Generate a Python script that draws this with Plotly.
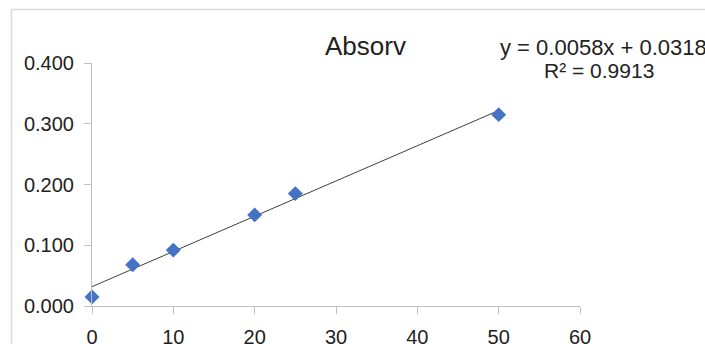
import plotly.graph_objects as go

# Data
conc = [0, 5, 10, 20, 25, 50]
absorb = [0.015, 0.068, 0.092, 0.150, 0.185, 0.315]
slope = 0.0058
intercept = 0.0318
trend_x = [0, 50]
trend_y = [intercept + slope * v for v in trend_x]
x_ticks = [0, 10, 20, 30, 40, 50, 60]
y_ticks = [0.0, 0.1, 0.2, 0.3, 0.4]
y_labels = ["0.000", "0.100", "0.200", "0.300", "0.400"]
title_text = "Absorv"
eq_text = "y = 0.0058x + 0.0318"
r2_text = "R² = 0.9913"

FONT = "Arial, Liberation Sans, Helvetica, sans-serif"

fig = go.Figure()
fig.add_trace(go.Scatter(x=trend_x, y=trend_y, mode="lines",
                         line=dict(color="#404040", width=1), showlegend=False,
                         hoverinfo="skip", cliponaxis=False))
fig.add_trace(go.Scatter(x=conc, y=absorb, mode="markers",
                         marker=dict(symbol="diamond", size=11.5, color="#4472C4",
                                     line=dict(width=0)),
                         showlegend=False, cliponaxis=False))

axis_col = "#bfbfbf"
fig.update_layout(
    width=705, height=344,
    margin=dict(l=92, r=125, t=63, b=38),
    paper_bgcolor="white", plot_bgcolor="white",
    font=dict(family=FONT, color="#222222", size=20),
    xaxis=dict(range=[0, 60], tickvals=x_ticks, showgrid=False, zeroline=False,
               showline=True, linecolor=axis_col, linewidth=1, automargin=False,
               ticks="outside", ticklen=7, tickcolor=axis_col, tickwidth=1,
               tickfont=dict(size=20, family=FONT, color="#222222"),
               ticklabelstandoff=6),
    yaxis=dict(range=[0, 0.4], tickvals=y_ticks, ticktext=y_labels,
               showgrid=False, zeroline=False, automargin=False,
               showline=True, linecolor=axis_col, linewidth=1,
               ticks="outside", ticklen=7, tickcolor=axis_col, tickwidth=1,
               tickfont=dict(size=20, family=FONT, color="#222222"),
               ticklabelstandoff=6),
    shapes=[dict(type="rect", xref="paper", yref="paper",
                 x0=-0.165, x1=1.6, y0=-0.5, y1=1.2206,
                 line=dict(color="#d9d9d9", width=1.5), layer="below")],
    annotations=[
        dict(text=title_text, xref="paper", yref="paper",
             x=(365.5 - 92) / 488, y=(306 - 46) / 243, xanchor="center", yanchor="middle",
             showarrow=False, font=dict(size=26, family=FONT, color="#222222")),
        dict(text=eq_text, xref="paper", yref="paper",
             x=(603 - 92) / 488, y=(306 - 47) / 243, xanchor="center", yanchor="middle",
             showarrow=False, font=dict(size=22, family=FONT, color="#222222")),
        dict(text=r2_text, xref="paper", yref="paper",
             x=(599 - 92) / 488, y=(306 - 71) / 243, xanchor="center", yanchor="middle",
             showarrow=False, font=dict(size=21, family=FONT, color="#222222")),
    ],
)

fig.write_html("out.html")
